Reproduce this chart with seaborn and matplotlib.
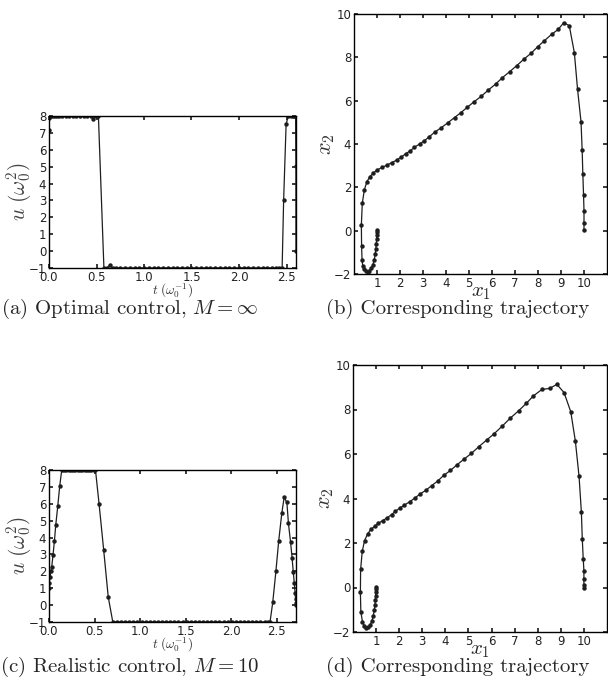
import pandas as pd
import seaborn as sns
import matplotlib.pyplot as plt

sns.set_theme(style="ticks")
plt.rcParams.update({
    "font.family": ["DejaVu Sans"],
    "mathtext.fontset": "cm",
    "xtick.direction": "in", "ytick.direction": "in",
    "xtick.top": True, "ytick.right": True,
    "xtick.major.size": 3, "ytick.major.size": 3,
    "xtick.major.pad": 2, "ytick.major.pad": 2,
    "axes.linewidth": 1.0, "axes.edgecolor": "black",
    "xtick.labelsize": 8.5, "ytick.labelsize": 8.5,
    "xtick.color": "#222222", "ytick.color": "#222222",
})

# (a) optimal control, M = inf
t_a = [0.000, 0.003, 0.010, 0.022, 0.038, 0.058, 0.082, 0.110, 0.142, 0.176,
       0.212, 0.250, 0.288, 0.326, 0.364, 0.402, 0.440, 0.465, 0.495, 0.520,
       0.578, 0.610, 0.640, 0.670, 0.710, 0.750, 0.800, 0.850, 0.900, 0.950,
       1.000, 1.050, 1.100, 1.150, 1.200, 1.250, 1.300, 1.350, 1.400, 1.450,
       1.500, 1.550, 1.600, 1.650, 1.700, 1.750, 1.800, 1.850, 1.900, 1.950,
       2.000, 2.050, 2.100, 2.150, 2.200, 2.250, 2.300, 2.345, 2.385, 2.420,
       2.454, 2.470, 2.496, 2.520, 2.545, 2.565, 2.580, 2.590, 2.596, 2.599,
       2.600]
u_a = [7.2, 7.9, 8.0, 8.0, 8.0, 8.0, 8.0, 8.0, 8.0, 8.0,
       8.0, 8.0, 8.0, 8.0, 8.0, 8.0, 8.0, 7.85, 8.0, 8.0,
       -1.0, -1.0, -0.85, -1.0, -1.0, -1.0, -1.0, -1.0, -1.0, -1.0,
       -1.0, -1.0, -1.0, -1.0, -1.0, -1.0, -1.0, -1.0, -1.0, -1.0,
       -1.0, -1.0, -1.0, -1.0, -1.0, -1.0, -1.0, -1.0, -1.0, -1.0,
       -1.0, -1.0, -1.0, -1.0, -1.0, -1.0, -1.0, -1.0, -1.0, -1.0,
       -1.0, 3.04, 7.53, 8.0, 8.0, 8.0, 8.0, 8.0, 8.0, 5.05,
       0.0]

# (b) trajectory for (a)
x1_b = [1.00, 1.00, 0.99, 0.98, 0.97, 0.95, 0.92, 0.88, 0.82, 0.75,
        0.67, 0.59, 0.50, 0.43, 0.38, 0.35, 0.33, 0.32, 0.36, 0.45,
        0.56, 0.69, 0.83, 1.00, 1.22, 1.42, 1.64, 1.86, 2.05, 2.24,
        2.45, 2.63, 2.85, 3.06, 3.28, 3.50, 3.79, 4.08, 4.37, 4.65,
        4.92, 5.22, 5.53, 5.84, 6.16, 6.45, 6.77, 7.08, 7.38, 7.69,
        7.99, 8.28, 8.59, 8.88, 9.12, 9.36, 9.58, 9.72, 9.87, 9.92,
        9.95, 9.98, 10.0, 10.0, 10.0]
x2_b = [0.03, -0.08, -0.22, -0.40, -0.60, -0.85, -1.10, -1.35, -1.58, -1.74,
        -1.84, -1.89, -1.87, -1.78, -1.62, -1.35, -0.71, 0.26, 1.26, 1.88,
        2.26, 2.49, 2.65, 2.80, 2.92, 3.02, 3.14, 3.26, 3.40, 3.54,
        3.69, 3.85, 4.00, 4.15, 4.34, 4.54, 4.75, 4.98, 5.22, 5.45,
        5.69, 5.95, 6.20, 6.49, 6.77, 7.06, 7.34, 7.62, 7.91, 8.18,
        8.49, 8.77, 9.06, 9.29, 9.60, 9.46, 8.22, 6.52, 5.03, 3.72,
        2.60, 1.65, 0.91, 0.34, 0.03]

# (c) realistic control, M = 10
t_c = [0.000, 0.002, 0.011, 0.022, 0.030, 0.044, 0.059, 0.074, 0.096, 0.118,
       0.140, 0.165, 0.190, 0.215, 0.240, 0.265, 0.290, 0.315, 0.340, 0.365,
       0.390, 0.415, 0.440, 0.465, 0.490, 0.510, 0.550, 0.600, 0.650, 0.700,
       0.745, 0.790, 0.835, 0.880, 0.925, 0.970, 1.015, 1.060, 1.105, 1.150,
       1.195, 1.240, 1.285, 1.330, 1.375, 1.420, 1.465, 1.510, 1.555, 1.600,
       1.645, 1.690, 1.735, 1.780, 1.825, 1.870, 1.915, 1.960, 2.005, 2.050,
       2.095, 2.140, 2.185, 2.230, 2.275, 2.320, 2.365, 2.400, 2.425, 2.455,
       2.490, 2.520, 2.554, 2.580, 2.610, 2.627, 2.650, 2.667, 2.680, 2.692,
       2.700, 2.705, 2.708, 2.710]
u_c = [1.0, 1.3, 1.67, 2.03, 2.27, 2.96, 3.77, 4.74, 5.85, 7.07,
       8.0, 8.0, 8.0, 8.0, 8.0, 8.0, 8.0, 8.0, 8.0, 8.0,
       8.0, 8.0, 8.0, 8.0, 8.0, 8.0, 5.96, 3.26, 0.48, -1.0,
       -1.0, -1.0, -1.0, -1.0, -1.0, -1.0, -1.0, -1.0, -1.0, -1.0,
       -1.0, -1.0, -1.0, -1.0, -1.0, -1.0, -1.0, -1.0, -1.0, -1.0,
       -1.0, -1.0, -1.0, -1.0, -1.0, -1.0, -1.0, -1.0, -1.0, -1.0,
       -1.0, -1.0, -1.0, -1.0, -1.0, -1.0, -1.0, -1.0, -1.0, 0.17,
       2.03, 3.79, 5.43, 6.38, 6.08, 4.84, 3.75, 2.80, 1.97, 1.28,
       0.72, 0.35, 0.12, 0.0]

# (d) trajectory for (c)
x1_d = [1.00, 1.00, 0.99, 0.98, 0.97, 0.95, 0.92, 0.88, 0.82, 0.75,
        0.66, 0.57, 0.49, 0.41, 0.34, 0.32, 0.33, 0.40, 0.50, 0.63,
        0.77, 0.95, 1.10, 1.29, 1.48, 1.67, 1.84, 2.02, 2.22, 2.45,
        2.68, 2.90, 3.14, 3.40, 3.66, 3.93, 4.22, 4.51, 4.81, 5.13,
        5.45, 5.79, 6.11, 6.47, 6.82, 7.18, 7.51, 7.81, 8.18, 8.52,
        8.83, 9.14, 9.43, 9.63, 9.79, 9.89, 9.93, 9.97, 10.0, 10.0,
        10.0, 10.0]
x2_d = [0.03, -0.08, -0.20, -0.36, -0.55, -0.78, -1.02, -1.27, -1.50, -1.67,
        -1.78, -1.80, -1.72, -1.54, -1.09, -0.22, 0.81, 1.62, 2.11, 2.40,
        2.61, 2.76, 2.89, 3.01, 3.13, 3.28, 3.42, 3.57, 3.70, 3.85,
        4.02, 4.20, 4.36, 4.57, 4.78, 5.04, 5.26, 5.52, 5.77, 6.03,
        6.33, 6.63, 6.91, 7.26, 7.62, 7.95, 8.28, 8.61, 8.90, 8.95,
        9.13, 8.76, 7.90, 6.58, 4.99, 3.40, 2.17, 1.30, 0.75, 0.39,
        0.10, 0.00]

u_ticks = [-1, 0, 1, 2, 3, 4, 5, 6, 7, 8]
t_ticks = [0.0, 0.5, 1.0, 1.5, 2.0, 2.5]
x1_ticks = [1, 2, 3, 4, 5, 6, 7, 8, 9, 10]
x2_ticks = [-2, 0, 2, 4, 6, 8, 10]

line_color = "#1e1e1e"
W, H = 608, 687


def box(left, top, right, bottom):
    return [left / W, 1 - bottom / H, (right - left) / W, (bottom - top) / H]


def draw(ax, x, y):
    df = pd.DataFrame({"x": x, "y": y})
    sns.lineplot(data=df, x="x", y="y", sort=False, estimator=None,
                 color=line_color, linewidth=0.9, marker="o", markersize=3.2,
                 markeredgewidth=0, markerfacecolor=line_color, ax=ax)


fig = plt.figure(figsize=(W / 100, H / 100), dpi=100)

ax_a = fig.add_axes(box(49, 116, 296, 268))
ax_b = fig.add_axes(box(354, 14, 607, 274))
ax_c = fig.add_axes(box(49, 470, 296, 622))
ax_d = fig.add_axes(box(353, 365, 607, 632))

draw(ax_a, t_a, u_a)
draw(ax_b, x1_b, x2_b)
draw(ax_c, t_c, u_c)
draw(ax_d, x1_d, x2_d)

# control panels: label offsets in pixels from the axes
for ax, tmax, h in [(ax_a, 2.6, 152), (ax_c, 2.71, 152)]:
    ax.set_xlim(0, tmax)
    ax.set_ylim(-1, 8)
    ax.set_yticks(u_ticks)
    ax.set_xticks(t_ticks)
    ax.set_xticklabels([f"{v:.1f}" for v in t_ticks])
    ax.set_xlabel(r"$t\ (\omega_0^{-1})$", fontsize=9.5, color="#333333", va="center")
    ax.xaxis.set_label_coords(0.5, -23 / h)
    ax.set_ylabel(r"$u\ (\omega_0^2)$", fontsize=15.5, color="#444444", va="center")
    ax.yaxis.set_label_coords(-30 / 247, 0.5)

for ax, h in [(ax_b, 260), (ax_d, 267)]:
    ax.set_xlim(0, 11)
    ax.set_ylim(-2, 10)
    ax.set_xticks(x1_ticks)
    ax.set_yticks(x2_ticks)
    ax.set_xlabel(r"$x_1$", fontsize=15, va="center")
    ax.xaxis.set_label_coords(0.5, -18 / h)
    ax.set_ylabel(r"$x_2$", fontsize=16, color="#333333", va="center")
    ax.yaxis.set_label_coords(-27 / 254, 0.5)

for ax in (ax_a, ax_b, ax_c, ax_d):
    for s in ax.spines.values():
        s.set_color("black")
        s.set_linewidth(1.0)

cap = dict(family="cmr10", fontsize=15, ha="center", va="center")
fig.text(130 / W, 1 - 309 / H, r"(a) Optimal control, $M = \infty$", **cap)
fig.text(458 / W, 1 - 309 / H, "(b) Corresponding trajectory", **cap)
fig.text(130 / W, 1 - 667 / H, r"(c) Realistic control, $M = 10$", **cap)
fig.text(458 / W, 1 - 667 / H, "(d) Corresponding trajectory", **cap)

fig.savefig("out.png", dpi=100)
